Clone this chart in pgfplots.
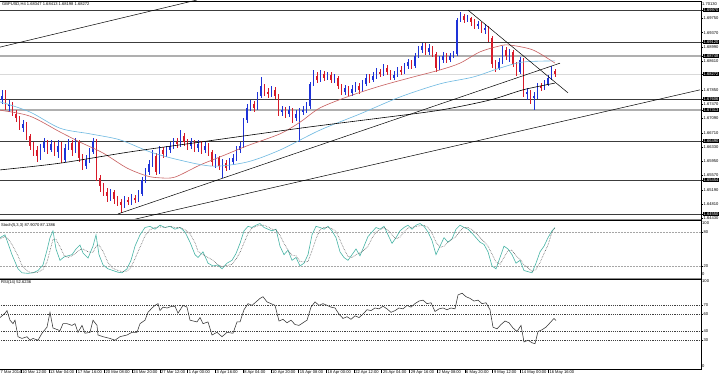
\documentclass[border=0pt]{standalone}
\usepackage{pgfplots}
\pgfplotsset{compat=1.18}
\usepackage{pgfplotstable}
\usepackage{fontspec}
\setmainfont{Liberation Sans}

\definecolor{bullc}{RGB}{30,50,215}
\definecolor{bearc}{RGB}{215,25,40}
\definecolor{maRed}{RGB}{200,95,95}
\definecolor{maBlue}{RGB}{110,185,225}
\definecolor{srDark}{RGB}{60,60,60}
\definecolor{srGray}{RGB}{175,175,175}
\definecolor{stK}{RGB}{70,180,165}
\definecolor{stD}{RGB}{90,90,90}

\newcommand{\tf}{\fontsize{4.1}{5}\selectfont}

\pgfplotstableread{
x o h l c
2 1.6758 1.6785 1.6747 1.6769
5.5 1.6769 1.6785 1.6731 1.6742
9 1.6742 1.6758 1.6726 1.6747
12.5 1.6747 1.6753 1.6715 1.6721
16 1.6721 1.6731 1.6699 1.6710
19.5 1.6710 1.6715 1.6678 1.6683
23 1.6683 1.6705 1.6673 1.6694
26.5 1.6694 1.6699 1.6652 1.6662
30 1.6662 1.6668 1.6625 1.6636
33.5 1.6636 1.6646 1.6609 1.6625
37 1.6625 1.6636 1.6593 1.6609
40.5 1.6609 1.6641 1.6598 1.6630
44 1.6630 1.6657 1.6620 1.6646
47.5 1.6646 1.6652 1.6614 1.6625
51 1.6625 1.6652 1.6620 1.6641
54.5 1.6641 1.6646 1.6609 1.6620
58 1.6620 1.6652 1.6604 1.6636
61.5 1.6636 1.6646 1.6590 1.6598
65 1.6598 1.6641 1.6593 1.6630
68.5 1.6630 1.6654 1.6625 1.6644
72 1.6644 1.6652 1.6609 1.6625
75.5 1.6625 1.6657 1.6617 1.6646
79 1.6646 1.6652 1.6593 1.6604
82.5 1.6604 1.6614 1.6572 1.6582
86 1.6582 1.6612 1.6574 1.6598
89.5 1.6598 1.6630 1.6590 1.6620
93 1.6620 1.6657 1.6614 1.6649
96.5 1.6649 1.6654 1.6543 1.6551
100 1.6551 1.6559 1.6513 1.6529
103.5 1.6529 1.6537 1.6503 1.6513
107 1.6513 1.6524 1.6487 1.6503
110.5 1.6503 1.6521 1.6489 1.6513
114 1.6513 1.6519 1.6481 1.6495
117.5 1.6495 1.6503 1.6476 1.6487
121 1.6487 1.6495 1.6457 1.6479
124.5 1.6479 1.6503 1.6471 1.6492
128 1.6492 1.6500 1.6479 1.6487
131.5 1.6487 1.6508 1.6479 1.6497
135 1.6497 1.6505 1.6484 1.6492
138.5 1.6492 1.6519 1.6487 1.6508
142 1.6508 1.6553 1.6503 1.6545
145.5 1.6545 1.6577 1.6537 1.6566
149 1.6566 1.6598 1.6559 1.6588
152.5 1.6588 1.6625 1.6580 1.6609
156 1.6609 1.6617 1.6559 1.6566
159.5 1.6566 1.6636 1.6561 1.6625
163 1.6625 1.6633 1.6604 1.6614
166.5 1.6614 1.6636 1.6606 1.6625
170 1.6625 1.6646 1.6617 1.6636
173.5 1.6636 1.6657 1.6628 1.6646
177 1.6646 1.6657 1.6630 1.6641
180.5 1.6641 1.6678 1.6633 1.6662
184 1.6662 1.6670 1.6636 1.6646
187.5 1.6646 1.6654 1.6625 1.6636
191 1.6636 1.6657 1.6628 1.6646
194.5 1.6646 1.6652 1.6620 1.6630
198 1.6630 1.6652 1.6620 1.6641
201.5 1.6641 1.6649 1.6614 1.6625
205 1.6625 1.6646 1.6617 1.6636
208.5 1.6636 1.6644 1.6609 1.6620
212 1.6620 1.6625 1.6582 1.6593
215.5 1.6593 1.6614 1.6577 1.6604
219 1.6604 1.6609 1.6572 1.6582
222.5 1.6582 1.6601 1.6551 1.6590
226 1.6590 1.6598 1.6569 1.6577
229.5 1.6577 1.6604 1.6572 1.6593
233 1.6593 1.6614 1.6585 1.6604
236.5 1.6604 1.6636 1.6596 1.6625
240 1.6625 1.6646 1.6617 1.6636
243.5 1.6636 1.6710 1.6630 1.6705
247 1.6705 1.6747 1.6697 1.6737
250.5 1.6737 1.6758 1.6729 1.6747
254 1.6747 1.6755 1.6726 1.6737
257.5 1.6737 1.6779 1.6731 1.6769
261 1.6769 1.6819 1.6763 1.6795
264.5 1.6795 1.6801 1.6769 1.6779
268 1.6779 1.6790 1.6763 1.6774
271.5 1.6774 1.6795 1.6766 1.6785
275 1.6785 1.6793 1.6761 1.6769
278.5 1.6769 1.6774 1.6715 1.6726
282 1.6726 1.6742 1.6715 1.6731
285.5 1.6731 1.6739 1.6710 1.6721
289 1.6721 1.6742 1.6713 1.6731
292.5 1.6731 1.6737 1.6697 1.6710
296 1.6710 1.6731 1.6702 1.6721
299.5 1.6721 1.6737 1.6646 1.6726
303 1.6726 1.6742 1.6718 1.6731
306.5 1.6731 1.6753 1.6723 1.6742
310 1.6742 1.6806 1.6734 1.6801
313.5 1.6801 1.6838 1.6795 1.6822
317 1.6822 1.6832 1.6803 1.6811
320.5 1.6811 1.6838 1.6806 1.6827
324 1.6827 1.6835 1.6809 1.6817
327.5 1.6817 1.6832 1.6811 1.6824
331 1.6824 1.6832 1.6803 1.6811
334.5 1.6811 1.6827 1.6803 1.6817
338 1.6817 1.6822 1.6787 1.6795
341.5 1.6795 1.6801 1.6771 1.6779
345 1.6779 1.6798 1.6771 1.6790
348.5 1.6790 1.6795 1.6769 1.6777
352 1.6777 1.6798 1.6769 1.6787
355.5 1.6787 1.6806 1.6779 1.6795
359 1.6795 1.6803 1.6774 1.6785
362.5 1.6785 1.6811 1.6779 1.6801
366 1.6801 1.6827 1.6795 1.6817
369.5 1.6817 1.6827 1.6803 1.6811
373 1.6811 1.6832 1.6806 1.6822
376.5 1.6822 1.6843 1.6814 1.6832
380 1.6832 1.6840 1.6819 1.6827
383.5 1.6827 1.6854 1.6822 1.6843
387 1.6843 1.6851 1.6824 1.6832
390.5 1.6832 1.6838 1.6811 1.6817
394 1.6817 1.6835 1.6811 1.6824
397.5 1.6824 1.6846 1.6819 1.6838
401 1.6838 1.6848 1.6824 1.6832
404.5 1.6832 1.6856 1.6827 1.6848
408 1.6848 1.6867 1.6840 1.6859
411.5 1.6859 1.6864 1.6840 1.6848
415 1.6848 1.6883 1.6843 1.6875
418.5 1.6875 1.6902 1.6870 1.6891
422 1.6891 1.6910 1.6883 1.6902
425.5 1.6902 1.6910 1.6878 1.6886
429 1.6886 1.6907 1.6878 1.6896
432.5 1.6896 1.6902 1.6872 1.6880
436 1.6880 1.6886 1.6832 1.6843
439.5 1.6843 1.6875 1.6838 1.6864
443 1.6864 1.6886 1.6856 1.6875
446.5 1.6875 1.6883 1.6856 1.6864
450 1.6864 1.6883 1.6859 1.6875
453.5 1.6875 1.6888 1.6870 1.6880
457 1.6880 1.6976 1.6875 1.6971
460.5 1.6971 1.6992 1.6965 1.6981
464 1.6981 1.6987 1.6963 1.6971
467.5 1.6971 1.6984 1.6965 1.6976
471 1.6976 1.6979 1.6955 1.6965
474.5 1.6965 1.6973 1.6947 1.6955
478 1.6955 1.6968 1.6947 1.6960
481.5 1.6960 1.6965 1.6936 1.6944
485 1.6944 1.6960 1.6934 1.6950
488.5 1.6950 1.6955 1.6912 1.6923
492 1.6923 1.6928 1.6843 1.6854
495.5 1.6854 1.6864 1.6832 1.6843
499 1.6843 1.6870 1.6838 1.6859
502.5 1.6859 1.6902 1.6854 1.6891
506 1.6891 1.6899 1.6864 1.6875
509.5 1.6875 1.6894 1.6859 1.6886
513 1.6886 1.6891 1.6846 1.6854
516.5 1.6854 1.6859 1.6822 1.6832
520 1.6832 1.6872 1.6827 1.6864
523.5 1.6864 1.6870 1.6766 1.6774
527 1.6774 1.6790 1.6758 1.6779
530.5 1.6779 1.6785 1.6747 1.6763
534 1.6763 1.6779 1.6731 1.6769
537.5 1.6769 1.6803 1.6761 1.6795
541 1.6795 1.6803 1.6782 1.6790
544.5 1.6790 1.6811 1.6785 1.6801
548 1.6801 1.6824 1.6795 1.6817
551.5 1.6817 1.6848 1.6811 1.6835
555 1.68347 1.68413 1.68198 1.68272
}\candles

\begin{document}
\begin{tikzpicture}[x=1bp,y=1bp]
\useasboundingbox (0,0) rectangle (720,377);
\fill[white] (0,0) rectangle (720,377);
\pgfplotsset{mt/.style={
  scale only axis, width=713bp, xmin=-12, xmax=701, anchor=south west,
  axis line style={black, line width=0.6bp},
  ytick pos=right, yticklabel pos=right, tick align=outside,
  major tick length=2bp,
  every tick/.style={black, line width=0.4bp},
  tick label style={font=\tf, inner sep=0.5bp},
  /pgf/number format/assume math mode=true,
}}

% ---------------- main price panel ----------------
\begin{axis}[mt, at={(-12bp,158bp)}, height=218bp,
  ymin=1.64415, ymax=1.70213, xtick=\empty,
  ytick={1.6443,1.6481,1.6519,1.6557,1.6595,1.6633,1.6671,1.6709,1.6747,1.6785,1.6861,1.6899,1.6937,1.6975},
  yticklabel={\pgfmathprintnumber[fixed,fixed zerofill,precision=5]{\tick}},
  extra y ticks={1.6997,1.6912,1.68748,1.68272,1.67606,1.67313,1.6649,1.65454,1.6455},
  extra y tick labels={1.69970,1.69120,1.68748,1.68272,1.67606,1.67313,1.66490,1.65454,1.64550},
  extra y tick style={yticklabel style={fill=black, text=white}},
]
% horizontal levels
\addplot[srDark, line width=0.6bp] coordinates {(-12,1.6997) (701,1.6997)};
\addplot[srDark, line width=0.6bp] coordinates {(-12,1.6912) (701,1.6912)};
\addplot[srGray, line width=1.6bp] coordinates {(-12,1.68748) (701,1.68748)};
\addplot[black!15, line width=0.5bp] coordinates {(-12,1.68272) (701,1.68272)};
\addplot[srDark, line width=0.6bp] coordinates {(-12,1.67606) (701,1.67606)};
\addplot[srGray, line width=1.6bp] coordinates {(-12,1.67313) (701,1.67313)};
\addplot[srDark, line width=0.6bp] coordinates {(-12,1.6649) (701,1.6649)};
\addplot[srDark, line width=0.6bp] coordinates {(-12,1.65454) (701,1.65454)};
\addplot[srDark, line width=0.6bp] coordinates {(-12,1.6455) (701,1.6455)};

% candles: wicks and bodies
\addplot[draw=none, forget plot,
  x filter/.expression={\thisrow{c}>=\thisrow{o} ? x : nan},
  error bars/.cd, y dir=both, y explicit, error mark=none,
  error bar style={draw=bullc, line width=0.6bp}]
  table[x=x, y expr={(\thisrow{h}+\thisrow{l})/2}, y error expr={(\thisrow{h}-\thisrow{l})/2}] {\candles};
\addplot[draw=none, forget plot,
  x filter/.expression={\thisrow{c}<\thisrow{o} ? x : nan},
  error bars/.cd, y dir=both, y explicit, error mark=none,
  error bar style={draw=bearc, line width=0.6bp}]
  table[x=x, y expr={(\thisrow{h}+\thisrow{l})/2}, y error expr={(\thisrow{h}-\thisrow{l})/2}] {\candles};
\addplot[draw=none, forget plot,
  x filter/.expression={\thisrow{c}>=\thisrow{o} ? x : nan},
  error bars/.cd, y dir=both, y explicit, error mark=none,
  error bar style={draw=bullc, line width=1.7bp}]
  table[x=x, y expr={(\thisrow{o}+\thisrow{c})/2}, y error expr={abs(\thisrow{c}-\thisrow{o})/2+0.00002}] {\candles};
\addplot[draw=none, forget plot,
  x filter/.expression={\thisrow{c}<\thisrow{o} ? x : nan},
  error bars/.cd, y dir=both, y explicit, error mark=none,
  error bar style={draw=bearc, line width=1.7bp}]
  table[x=x, y expr={(\thisrow{o}+\thisrow{c})/2}, y error expr={abs(\thisrow{c}-\thisrow{o})/2+0.00002}] {\candles};

% moving averages
\addplot[maRed, line width=0.6bp, smooth] coordinates {(-12,1.6735) (0,1.6731) (30,1.6715) (60,1.6673) (80,1.6646) (103,1.6617) (127,1.6577) (147,1.6556) (160,1.6551) (175,1.6553) (200,1.6585) (225,1.6612) (247,1.6636) (280,1.6668) (300,1.6699) (320,1.6737) (350,1.6769) (380,1.6795) (410,1.6817) (440,1.6838) (460,1.6856) (480,1.6886) (500,1.6902) (510,1.6904) (533,1.6891) (555,1.6856)};
\addplot[maBlue, line width=0.6bp, smooth] coordinates {(-12,1.6757) (0,1.6753) (30,1.6726) (60,1.6683) (90,1.6668) (120,1.6652) (150,1.6620) (180,1.6598) (213,1.6582) (247,1.6593) (280,1.6625) (320,1.6678) (360,1.6721) (400,1.6766) (440,1.6801) (473,1.6819) (500,1.6843) (523,1.6859) (555,1.6862)};
\addplot[black, line width=0.6bp, smooth] coordinates {(-12,1.6569) (0,1.6572) (60,1.6590) (130,1.6620) (200,1.6646) (300,1.6683) (380,1.6710) (440,1.6731) (490,1.6758) (523,1.6785) (555,1.6803)};

% trend lines
\addplot[black, line width=0.5bp] coordinates {(-12,1.6891) (197,1.7024)};
\addplot[black, line width=0.5bp] coordinates {(118,1.6455) (560,1.6856)};
\addplot[black, line width=0.5bp] coordinates {(135,1.6441) (700,1.6785)};
\addplot[black, line width=0.5bp] coordinates {(468,1.6997) (568,1.6777)};
\end{axis}

% ---------------- stochastic panel ----------------
\begin{axis}[mt, at={(-12bp,99bp)}, height=58bp,
  ymin=-1.2, ymax=101.2, xtick=\empty, ytick={20,80}]
\addplot[black!35, densely dotted, line width=0.5bp] coordinates {(-12,80) (701,80)};
\addplot[black!35, densely dotted, line width=0.5bp] coordinates {(-12,20) (701,20)};
\addplot[stK, line width=0.6bp] coordinates {(-12,62) (0,70) (5,75) (8,60) (12,40) (18,15) (22,8) (28,7) (33,8) (38,12) (43,22) (47,48) (50,70) (53,82) (56,50) (60,30) (64,36) (68,38) (72,40) (76,50) (80,57) (83,43) (88,34) (93,55) (96,75) (99,40) (103,22) (108,15) (113,12) (118,9) (122,8) (127,15) (131,30) (135,55) (140,75) (145,88) (150,90) (155,85) (160,92) (165,88) (170,90) (175,85) (180,88) (185,80) (190,62) (195,40) (198,35) (203,45) (208,25) (213,20) (218,22) (222,15) (227,25) (232,30) (236,42) (240,60) (244,82) (248,90) (252,88) (256,92) (260,95) (264,88) (268,85) (272,82) (276,85) (280,55) (284,40) (288,48) (292,30) (296,35) (300,20) (304,25) (308,40) (312,75) (316,90) (320,88) (324,85) (328,90) (332,82) (336,70) (340,45) (344,35) (348,30) (352,40) (356,50) (360,38) (364,55) (368,72) (372,80) (376,88) (380,85) (384,90) (388,75) (392,60) (396,70) (400,82) (404,88) (408,92) (412,85) (416,92) (420,95) (424,90) (428,80) (432,65) (436,40) (440,55) (444,70) (448,62) (452,68) (456,85) (460,92) (464,88) (468,85) (472,78) (476,70) (480,62) (484,58) (488,45) (492,20) (496,15) (500,35) (504,55) (508,50) (512,40) (516,25) (520,30) (524,12) (528,10) (532,8) (536,25) (540,45) (544,55) (548,70) (552,82) (555,87.9)};
\addplot[stD, densely dotted, line width=0.6bp] coordinates {(-12,60) (0,68) (5,72) (8,68) (12,58) (18,38) (22,21) (28,10) (33,8) (38,9) (43,14) (47,27) (50,47) (53,67) (56,67) (60,54) (64,39) (68,35) (72,38) (76,43) (80,49) (83,50) (88,45) (93,44) (96,55) (99,57) (103,46) (108,26) (113,16) (118,12) (122,10) (127,11) (131,18) (135,33) (140,53) (145,73) (150,84) (155,88) (160,89) (165,88) (170,90) (175,88) (180,88) (185,84) (190,77) (195,61) (198,46) (203,40) (208,35) (213,30) (218,22) (222,19) (227,21) (232,23) (236,32) (240,44) (244,61) (248,77) (252,87) (256,90) (260,92) (264,92) (268,89) (272,85) (276,84) (280,74) (284,60) (288,48) (292,39) (296,38) (300,28) (304,27) (308,28) (312,47) (316,68) (320,84) (324,88) (328,88) (332,86) (336,81) (340,66) (344,50) (348,37) (352,35) (356,40) (360,43) (364,48) (368,55) (372,69) (376,80) (380,84) (384,88) (388,83) (392,75) (396,68) (400,71) (404,80) (408,87) (412,88) (416,90) (420,91) (424,92) (428,88) (432,78) (436,62) (440,53) (444,55) (448,62) (452,67) (456,72) (460,82) (464,88) (468,88) (472,84) (476,78) (480,70) (484,63) (488,55) (492,41) (496,27) (500,23) (504,35) (508,47) (512,48) (516,38) (520,32) (524,22) (528,17) (532,10) (536,14) (540,26) (544,42) (548,57) (552,80) (555,87.1)};
\end{axis}

% ---------------- RSI panel ----------------
\begin{axis}[mt, at={(-12bp,8bp)}, height=90bp,
  ymin=-3.1, ymax=100.3, ytick={30,40,60,70}, xtick=\empty]
\addplot[black!75, dash pattern=on 1.2bp off 1bp, line width=0.45bp] coordinates {(-12,70) (701,70)};
\addplot[black!75, dash pattern=on 1.2bp off 1bp, line width=0.45bp] coordinates {(-12,60) (701,60)};
\addplot[black!75, dash pattern=on 1.2bp off 1bp, line width=0.45bp] coordinates {(-12,40) (701,40)};
\addplot[black!75, dash pattern=on 1.2bp off 1bp, line width=0.45bp] coordinates {(-12,30) (701,30)};
\addplot[black!80, line width=0.55bp] coordinates {(-12,50) (0,56) (5,61) (7,64) (10,53) (13,49) (15,53) (18,34) (22,32) (27,34) (30,30) (33,32) (38,30) (42,38) (47,45) (50,62) (53,44) (60,41) (63,49) (67,49) (72,47) (75,49) (78,39) (82,47) (85,38) (90,39) (93,53) (97,47) (98,36) (103,34) (110,32) (115,30) (120,34) (127,36) (132,39) (137,39) (140,49) (145,53) (148,62) (152,67) (155,70) (158,72) (160,64) (163,68) (167,67) (172,69) (175,69) (178,61) (183,70) (187,68) (190,53) (197,51) (200,56) (203,49) (208,51) (212,36) (217,39) (222,34) (227,39) (233,38) (237,51) (240,51) (244,65) (248,72) (252,70) (256,74) (260,78) (263,80) (267,74) (271,72) (275,70) (279,52) (283,54) (287,50) (291,53) (295,48) (299,47) (303,50) (307,53) (311,68) (315,74) (319,70) (323,72) (327,70) (331,68) (335,67) (339,60) (343,55) (347,57) (351,54) (355,58) (359,56) (363,60) (367,65) (371,64) (375,67) (379,66) (383,69) (387,66) (391,62) (395,64) (399,67) (403,66) (407,70) (411,68) (415,72) (419,75) (423,76) (427,72) (431,73) (435,63) (439,66) (443,67) (447,65) (451,67) (455,66) (458,82) (462,84) (466,80) (470,78) (474,75) (478,76) (482,72) (486,73) (490,65) (493,45) (497,43) (501,48) (505,52) (509,50) (513,44) (517,40) (521,47) (524,28) (528,30) (532,27) (535,26) (538,40) (542,42) (546,45) (550,50) (554,55) (556,52.6)};
\end{axis}

% panel separators
\draw[black!45, line width=1.2bp] (0,157.6) -- (701,157.6);
\draw[black!45, line width=1.2bp] (0,98.6) -- (701,98.6);

% texts
\node[anchor=west, font=\tf, inner sep=0pt] at (2,372.5) {GBPUSD,H4 1.68347 1.68413 1.68198 1.68272};
\node[anchor=west, font=\tf, inner sep=0pt] at (1,152) {Stoch(5,3,3) 87.9070 87.1386};
\node[anchor=west, font=\tf, inner sep=0pt] at (1,95) {RSI(14) 52.6236};
\node[anchor=west, font=\tf, inner sep=0.5bp] at (701.5,372.5) {1.70130};
\node[anchor=west, font=\tf, inner sep=0.5bp] at (701.5,154) {100};
\node[anchor=west, font=\tf, inner sep=0.5bp] at (701.5,102.5) {0};
\node[anchor=west, font=\tf, inner sep=0.5bp] at (701.5,95.5) {100};
\node[anchor=west, font=\tf, inner sep=0.5bp] at (701.5,10.5) {0};
\node[anchor=west, font=\tf, inner sep=0pt] at (0.5,4.6) {7 Mar 2014};
\foreach \p/\t in {21.0/10 Mar 12:00, 48.7/13 Mar 04:00, 76.5/17 Mar 16:00, 104.2/20 Mar 08:00, 132.0/24 Mar 20:00, 159.7/27 Mar 12:00, 187.4/1 Apr 00:00, 215.2/3 Apr 16:00, 242.9/8 Apr 04:00, 270.7/10 Apr 20:00, 298.4/15 Apr 08:00, 326.1/18 Apr 00:00, 353.9/22 Apr 12:00, 381.6/25 Apr 04:00, 409.4/29 Apr 16:00, 437.1/2 May 08:00, 464.8/6 May 20:00, 492.6/9 May 12:00, 520.3/14 May 00:00, 548.1/16 May 16:00}
  {\draw[black, line width=0.4bp] (\p,8) -- (\p,4.2);
   \node[anchor=west, font=\tf, inner sep=0pt] at (\p+1.2,4.6) {\t};}
\end{tikzpicture}
\end{document}
